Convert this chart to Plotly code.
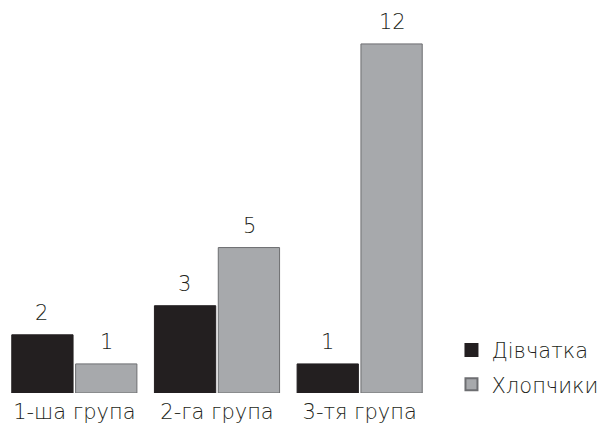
import plotly.graph_objects as go

groups = ["1-ша група", "2-га група", "3-тя група"]
girls = [2, 3, 1]
boys = [1, 5, 12]
series_names = ["Дівчатка", "Хлопчики"]

DARK = "#231f20"
GRAY = "#a7a9ac"
GRAY_EDGE = "#6d6e71"
FONT = "DejaVu Sans"
FSIZE = 21
FWEIGHT = 300

xs = list(range(len(groups)))

fig = go.Figure()
fig.add_trace(go.Bar(
    x=xs, y=girls, name=series_names[0], legendgroup="a",
    marker=dict(color=DARK, line=dict(color=DARK, width=1)),
))
fig.add_trace(go.Bar(
    x=xs, y=boys, name=series_names[1], legendgroup="b",
    marker=dict(color=GRAY, line=dict(color=GRAY_EDGE, width=1)),
))

# value labels above each bar
offset = 0.228
for vals, dx in ((girls, -offset), (boys, offset)):
    for i, v in enumerate(vals):
        fig.add_annotation(
            x=i + dx, y=v, xref="x", yref="y", text=str(v), showarrow=False,
            yanchor="bottom", yshift=8,
            font=dict(size=FSIZE, color=DARK, family=FONT, weight=FWEIGHT),
        )

fig.update_layout(
    width=606, height=433,
    margin=dict(l=2.5, r=174.5, t=0, b=40),
    paper_bgcolor="white", plot_bgcolor="white",
    barmode="group", bargap=0.105, bargroupgap=0.04,
    font=dict(family=FONT, size=FSIZE, color=DARK, weight=FWEIGHT),
    showlegend=True,
    legend=dict(
        xref="container", yref="container", x=0.745, y=0.065,
        xanchor="left", yanchor="bottom",
        traceorder="grouped", tracegroupgap=4,
        font=dict(size=FSIZE, color=DARK, family=FONT, weight=FWEIGHT),
        itemsizing="constant",
    ),
    xaxis=dict(
        range=[-0.5, 2.5], tickmode="array", tickvals=xs, ticktext=groups,
        showgrid=False, zeroline=False, showline=False, ticks="",
        ticklabelstandoff=4,
        tickfont=dict(size=FSIZE, color=DARK, family=FONT, weight=FWEIGHT),
    ),
    yaxis=dict(range=[0, 13.51], visible=False, showgrid=False, zeroline=False),
)

fig.write_html("out.html")
